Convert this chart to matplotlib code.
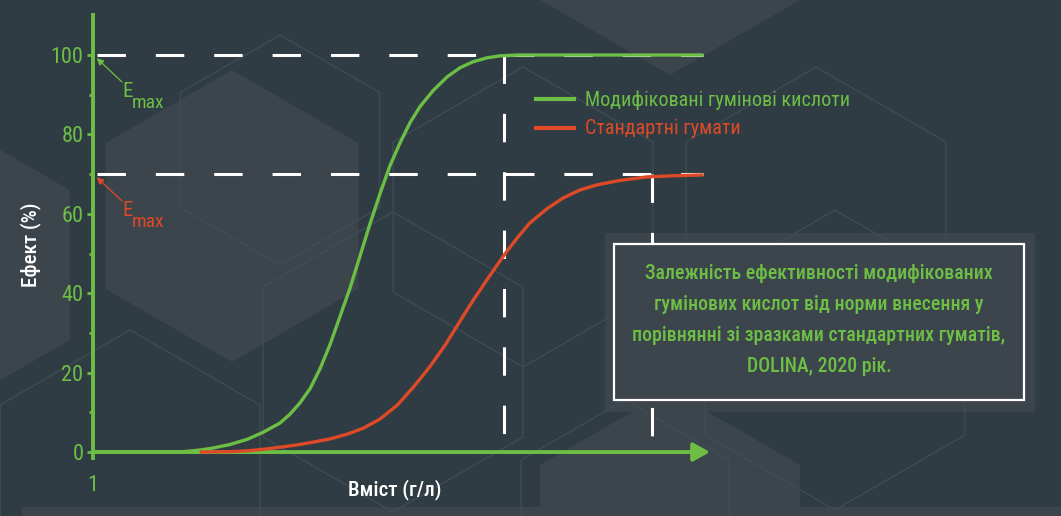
import matplotlib
matplotlib.use('agg')
import matplotlib.pyplot as plt
from matplotlib.patches import RegularPolygon, Rectangle
from matplotlib.lines import Line2D

plt.rcParams['font.family'] = ['Roboto Condensed', 'PT Sans Narrow',
                               'IBM Plex Sans Condensed', 'DejaVu Sans']

W, H = 1061, 516
BG = '#303c44'
LIGHT = '#3c444c'
EDGE = '#414d55'
GREEN = '#6cbe45'
RED = '#de4a28'

# x: relative content along the axis (0..100), y: effect, %
green_x = [0.0, 14.1, 17.3, 19.4, 22.2, 25.0, 27.6, 30.3, 31.9, 33.5, 35.2,
           36.8, 38.4, 40.0, 41.7, 43.3, 44.9, 46.5, 48.1, 49.8, 51.4, 53.0,
           55.1, 57.4, 59.5, 61.6, 63.9, 66.0, 69.2, 82.2, 98.9]
green_y = [0, 0, 0.5, 1, 1.9, 3.2, 5, 7.3, 9.5, 12.3, 16,
           21, 27, 34, 41.5, 49.5, 57.5, 65, 72, 78, 83, 87,
           91, 94.5, 96.8, 98.3, 99.3, 99.8, 100, 100, 100]
red_x = [17.3, 22.2, 25.0, 27.6, 30.3, 33.1, 35.7, 38.4, 41.2, 43.8, 46.5,
         49.3, 51.9, 54.6, 57.1, 59.5, 61.6, 63.9, 66.0, 67.1, 68.9, 70.8,
         73.6, 76.2, 78.9, 81.7, 85.4, 89.8, 94.3, 98.9]
red_y = [0, 0.1, 0.3, 0.7, 1.2, 1.8, 2.5, 3.3, 4.5, 6, 8.3,
         11.8, 16.3, 21.5, 27, 33, 38.2, 43.5, 48.2, 50.6, 54.2, 57.7,
         61.3, 64, 66, 67.3, 68.4, 69.3, 69.6, 69.8]

series_names = ['Модифіковані гумінові кислоти', 'Стандартні гумати']
series_colors = [GREEN, RED]

emax_levels = [100, 70]          # plateau of each series
guide_x = [66.6, 90.6]           # where each series reaches its plateau
y_ticks = [0, 20, 40, 60, 80, 100]
y_minor = [10, 30, 50, 70, 90]

note = ('Залежність ефективності модифікованих\n'
        'гумінових кислот від норми внесення у\n'
        'порівнянні зі зразками стандартних гуматів,\n'
        'DOLINA, 2020 рік.')


def fx(px):
    return px / W


def fy(py):
    return 1 - py / H


fig = plt.figure(figsize=(W / 100, H / 100), dpi=100)
fig.patch.set_facecolor(BG)

# background decoration
bg = fig.add_axes([0, 0, 1, 1])
bg.set_xlim(0, W)
bg.set_ylim(H, 0)
bg.axis('off')
for cx, cy, r in [(232, 216, 146), (-60, 265, 150), (670, -75, 150), (670, 540, 150)]:
    bg.add_patch(RegularPolygon((cx, cy), 6, radius=r, facecolor=LIGHT,
                                edgecolor='none'))
bg.add_patch(Rectangle((605, 233), 430, 179, facecolor=LIGHT, edgecolor='none'))
bg.add_patch(Rectangle((22, 507), W, 20, facecolor=LIGHT, edgecolor='none'))
for cx, cy, r in [(280, 150, 115), (523, 217, 150), (816, 217, 150),
                  (393, 362, 150), (835, 360, 150), (130, 480, 150),
                  (625, 520, 120)]:
    bg.add_patch(RegularPolygon((cx, cy), 6, radius=r, facecolor='none',
                                edgecolor=EDGE, lw=0.9))

# main axes: y 0 at px 452, 3.97 px per unit
ax = fig.add_axes([fx(93), fy(458), fx(710) - fx(93), (458 - 15.3) / H])
ax.set_facecolor('none')
ax.set_xlim(0, 100)
ax.set_ylim(-1.5, 110)
for s in ['top', 'right', 'bottom']:
    ax.spines[s].set_visible(False)
ax.spines['left'].set_color(GREEN)
ax.spines['left'].set_linewidth(2.8)

ax.set_yticks(y_ticks)
ax.set_yticks(y_minor, minor=True)
ax.tick_params(axis='y', which='major', length=4, width=2, color=GREEN,
               labelcolor=GREEN, labelsize=16, pad=3)
ax.tick_params(axis='y', which='minor', length=3, width=2, color=GREEN)
ax.set_xticks([0])
ax.set_xticklabels(['1'])
ax.tick_params(axis='x', length=0, labelcolor=GREEN, labelsize=16, pad=12)

# guides
for lvl in emax_levels:
    ax.plot([0.6, 98.9], [lvl, lvl], color='white', lw=2.2,
            dashes=(9.3, 9.8), dash_capstyle='butt', zorder=2)
for gx, lvl in zip(guide_x, emax_levels):
    ax.plot([gx, gx], [lvl, 0], color='white', lw=2.2,
            dashes=(9.3, 9.8), dash_capstyle='butt', zorder=2)

# x axis arrow
ax.annotate('', xy=(100, 0), xytext=(0, 0), annotation_clip=False,
            arrowprops=dict(arrowstyle='-|>,head_length=0.5,head_width=0.28',
                            color=GREEN, lw=2.8, mutation_scale=20,
                            shrinkA=0, shrinkB=0), zorder=3)

ax.plot(green_x, green_y, color=GREEN, lw=2.4, zorder=4,
        solid_capstyle='butt', solid_joinstyle='round')
ax.plot(red_x, red_y, color=RED, lw=2.4, zorder=4,
        solid_capstyle='butt', solid_joinstyle='round')

# axis labels
fig.text(fx(395), fy(490), 'Вміст (г/л)', color='white', fontsize=15,
         ha='center', va='center', fontweight='medium')
fig.text(fx(31), fy(245), 'Ефект (%)', color='white', fontsize=15,
         ha='center', va='center', rotation=90, fontweight='medium')

# E_max pointers
for lvl, color, (tx, ty) in zip(emax_levels, series_colors,
                                [(122, 97), (122, 216)]):
    fig.text(fx(tx), fy(ty), 'E', color=color, fontsize=15, va='baseline')
    fig.text(fx(tx + 10), fy(ty + 11), 'max', color=color, fontsize=14,
             va='baseline')
    ax.annotate('', xy=(0.6, lvl - 0.8), xytext=(fx(tx), fy(ty - 15)),
                textcoords='figure fraction',
                arrowprops=dict(arrowstyle='-|>,head_length=0.4,head_width=0.2',
                                color=color, lw=0.9, mutation_scale=10,
                                shrinkA=0, shrinkB=0))

# legend
for i, (name, color) in enumerate(zip(series_names, series_colors)):
    yy = 99 + 28.5 * i
    fig.add_artist(Line2D([fx(536), fx(574)], [fy(yy), fy(yy)], color=color,
                          lw=3))
    fig.text(fx(585), fy(yy + 7), name, color=color, fontsize=14.5,
             va='baseline')

# note box
fig.add_artist(Rectangle((fx(614), fy(400)), fx(1024) - fx(614),
                         fy(244) - fy(400), facecolor=LIGHT, edgecolor='white',
                         lw=1.6))
fig.text(fx(819), fy(320), note, color=GREEN, fontsize=14.3, ha='center',
         va='center', multialignment='center', linespacing=1.78,
         fontweight='medium')

fig.savefig('out.png', dpi=100, facecolor=BG)
